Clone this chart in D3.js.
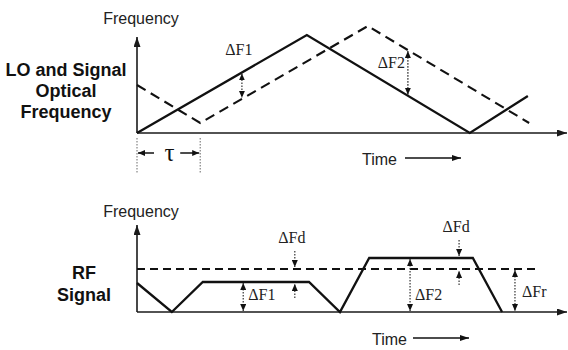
<!DOCTYPE html>
<html><head><meta charset="utf-8">
<script src="https://cdn.jsdelivr.net/npm/d3@7"></script>
<style>
html,body{margin:0;padding:0;background:#fff;}
svg{display:block;}
.sans{font-family:"Liberation Sans",Arial,sans-serif;}
.serif{font-family:"Liberation Serif","Times New Roman",serif;}
</style></head>
<body>
<svg id="chart" width="568" height="350"></svg>
<script>
// ---------- DATA ----------
// Top panel: LO (solid) and Signal (dashed) optical frequency vs time
const loTime  = [0, 3.95, 7.74, 9.09];
const loFreq  = [0, 9.8, 0, 3.7];
const sigTime = [0, 1.47, 5.37, 9.12];
const sigFreq = [4.8, 1.0, 10.7, 1.0];
const tau = 1.47;
const topAnnotTimes = [2.44, 6.30];           // ΔF1, ΔF2
const topAnnotLabels = ["ΔF1", "ΔF2"];

// Bottom panel: RF signal (solid) and threshold (dashed)
const rfTime = [0, 0.81, 1.53, 4.0, 4.72, 5.40, 7.81, 8.49];
const rfFreq = [2.9, 0, 3.0, 3.0, 0, 5.4, 5.4, 0];
const thresholdLevel = 4.3;
const thresholdEnd = 9.33;
const rfAnnotTimes = [2.47, 6.35, 8.79];      // ΔF1, ΔF2, ΔFr
const rfAnnotLabels = ["ΔF1", "ΔF2", "ΔFr"];
const fdTimes = [3.67, 7.49];                 // ΔFd markers
const fdLevels = [3.0, 5.4];

// Axis/labels text
const yLabel = "Frequency";
const xLabel = "Time";
const topTitle = ["LO and Signal", "Optical", "Frequency"];
const botTitle = ["RF", "Signal"];

// ---------- DRAW ----------
const svg = d3.select("#chart");
const defs = svg.append("defs");
function marker(id, w, h, color){
  defs.append("marker").attr("id", id)
    .attr("viewBox", `0 0 ${w} ${h}`).attr("markerUnits","userSpaceOnUse")
    .attr("markerWidth", w).attr("markerHeight", h)
    .attr("refX", w).attr("refY", h/2).attr("orient","auto")
    .append("path").attr("d", `M0,0L${w},${h/2}L0,${h}Z`).attr("fill", color);
}
marker("axisArrow", 10, 7, "#1a1a1a");
marker("smallArrow", 7, 6, "#111");
marker("timeArrow", 9, 6, "#111");
defs.append("marker").attr("id","smallArrowRev")
  .attr("viewBox","0 0 7 6").attr("markerUnits","userSpaceOnUse")
  .attr("markerWidth",7).attr("markerHeight",6).attr("refX",0).attr("refY",3).attr("orient","auto")
  .append("path").attr("d","M7,0L0,3L7,6Z").attr("fill","#111");

const x = d3.scaleLinear().domain([0, 10]).range([137, 567]);
const yTop = d3.scaleLinear().domain([0, 10]).range([133, 33]);
const yBot = d3.scaleLinear().domain([0, 10]).range([312, 212]);

function interp(ts, vs, t){
  return d3.scaleLinear().domain(ts).range(vs)(t);
}

function drawAxes(y, yTopVal){
  svg.append("line").attr("x1", x(0)).attr("x2", x(0))
    .attr("y1", y(0)).attr("y2", y(yTopVal))
    .attr("stroke","#1a1a1a").attr("stroke-width",1.6).attr("marker-end","url(#axisArrow)");
  svg.append("line").attr("x1", x(0)).attr("x2", x(10))
    .attr("y1", y(0)).attr("y2", y(0))
    .attr("stroke","#1a1a1a").attr("stroke-width",1.6).attr("marker-end","url(#axisArrow)");
}

function dArrow(xp, y1, y2, both){
  svg.append("line").attr("x1", xp).attr("x2", xp).attr("y1", y1).attr("y2", y2)
    .attr("stroke","#333").attr("stroke-width",1.2).attr("stroke-dasharray","1.6,1.4")
    .attr("marker-end","url(#smallArrow)")
    .attr("marker-start", both ? "url(#smallArrowRev)" : null);
}

const line = (y) => d3.line().x(d => x(d[0])).y(d => y(d[1]));

// ----- Top panel -----
drawAxes(yTop, 9.6);
svg.append("path").datum(d3.zip(loTime, loFreq))
  .attr("d", line(yTop)).attr("fill","none").attr("stroke","#111").attr("stroke-width",2.3);
svg.append("path").datum(d3.zip(sigTime, sigFreq))
  .attr("d", line(yTop)).attr("fill","none").attr("stroke","#111").attr("stroke-width",2.1)
  .attr("stroke-dasharray","10,6");

topAnnotTimes.forEach((t) => {
  const a = yTop(interp(loTime, loFreq, t));
  const b = yTop(interp(sigTime, sigFreq, t));
  dArrow(x(t), Math.min(a,b)+1, Math.max(a,b)-1, true);
});
svg.append("text").attr("class","serif").attr("x", x(topAnnotTimes[0]) - 3).attr("y", 55)
  .attr("text-anchor","middle").attr("font-size",16).attr("fill","#222").text(topAnnotLabels[0]);
svg.append("text").attr("class","serif").attr("x", x(topAnnotTimes[1]) - 3).attr("y", 68)
  .attr("text-anchor","end").attr("font-size",16).attr("fill","#222").text(topAnnotLabels[1]);

// tau
[0, tau].forEach(t => {
  svg.append("line").attr("x1", x(t)).attr("x2", x(t)).attr("y1", 138).attr("y2", 173)
    .attr("stroke","#777").attr("stroke-width",1.1).attr("stroke-dasharray","1.5,1.5");
});
svg.append("line").attr("x1", x(0) + 17).attr("x2", x(0) + 1).attr("y1",153).attr("y2",153)
  .attr("stroke","#111").attr("stroke-width",1.5).attr("marker-end","url(#smallArrow)");
svg.append("line").attr("x1", x(tau) - 20).attr("x2", x(tau) - 1).attr("y1",153).attr("y2",153)
  .attr("stroke","#111").attr("stroke-width",1.5).attr("marker-end","url(#smallArrow)");
svg.append("text").attr("class","serif").attr("x", (x(0)+x(tau))/2 + 1).attr("y", 161)
  .attr("text-anchor","middle").attr("font-size",25).attr("fill","#111").text("τ");

svg.append("text").attr("class","sans").attr("x",141).attr("y",24).attr("text-anchor","middle")
  .attr("font-size",16).attr("fill","#222").text(yLabel);
svg.append("text").attr("class","sans").attr("x",362).attr("y",165)
  .attr("font-size",16).attr("fill","#222").text(xLabel);
svg.append("line").attr("x1",405).attr("x2",461).attr("y1",158).attr("y2",158)
  .attr("stroke","#111").attr("stroke-width",1.3).attr("marker-end","url(#timeArrow)");
topTitle.forEach((s, i) => {
  svg.append("text").attr("class","sans").attr("x",66).attr("y",76 + i*21)
    .attr("text-anchor","middle").attr("font-size",18).attr("font-weight","bold")
    .attr("fill","#111").text(s);
});

// ----- Bottom panel -----
drawAxes(yBot, 8.7);
svg.append("line").attr("x1", x(0)).attr("x2", x(thresholdEnd))
  .attr("y1", yBot(thresholdLevel)).attr("y2", yBot(thresholdLevel))
  .attr("stroke","#111").attr("stroke-width",1.8).attr("stroke-dasharray","8,5");
svg.append("path").datum(d3.zip(rfTime, rfFreq))
  .attr("d", line(yBot)).attr("fill","none").attr("stroke","#111").attr("stroke-width",2.3);

const rfTops = [fdLevels[0], fdLevels[1], thresholdLevel];
rfAnnotTimes.forEach((t, i) => {
  dArrow(x(t), yBot(rfTops[i]) + 1, yBot(0) - 1, true);
});
svg.append("text").attr("class","serif").attr("x", x(rfAnnotTimes[0]) + 5).attr("y", 300)
  .attr("font-size",16).attr("fill","#222").text(rfAnnotLabels[0]);
svg.append("text").attr("class","serif").attr("x", x(rfAnnotTimes[1]) + 5).attr("y", 300)
  .attr("font-size",16).attr("fill","#222").text(rfAnnotLabels[1]);
svg.append("text").attr("class","serif").attr("x", x(rfAnnotTimes[2]) + 7).attr("y", 297)
  .attr("font-size",16).attr("fill","#222").text(rfAnnotLabels[2]);

const fdLabelY = [243, 232];
fdTimes.forEach((t, i) => {
  const xp = x(t);
  const hi = Math.max(fdLevels[i], thresholdLevel), lo = Math.min(fdLevels[i], thresholdLevel);
  dArrow(xp, yBot(hi) - 18, yBot(hi) - 2, false);
  dArrow(xp, yBot(lo) + 16, yBot(lo) + 2, false);
  svg.append("text").attr("class","serif").attr("x", xp - 3).attr("y", fdLabelY[i])
    .attr("text-anchor","middle").attr("font-size",16).attr("fill","#222").text("ΔFd");
});

svg.append("text").attr("class","sans").attr("x",141).attr("y",217).attr("text-anchor","middle")
  .attr("font-size",16).attr("fill","#222").text(yLabel);
svg.append("text").attr("class","sans").attr("x",372).attr("y",345)
  .attr("font-size",16).attr("fill","#222").text(xLabel);
svg.append("line").attr("x1",413).attr("x2",469).attr("y1",338).attr("y2",338)
  .attr("stroke","#111").attr("stroke-width",1.3).attr("marker-end","url(#timeArrow)");
botTitle.forEach((s, i) => {
  svg.append("text").attr("class","sans").attr("x",84).attr("y",279 + i*22)
    .attr("text-anchor","middle").attr("font-size",18).attr("font-weight","bold")
    .attr("fill","#111").text(s);
});
</script>
</body></html>
